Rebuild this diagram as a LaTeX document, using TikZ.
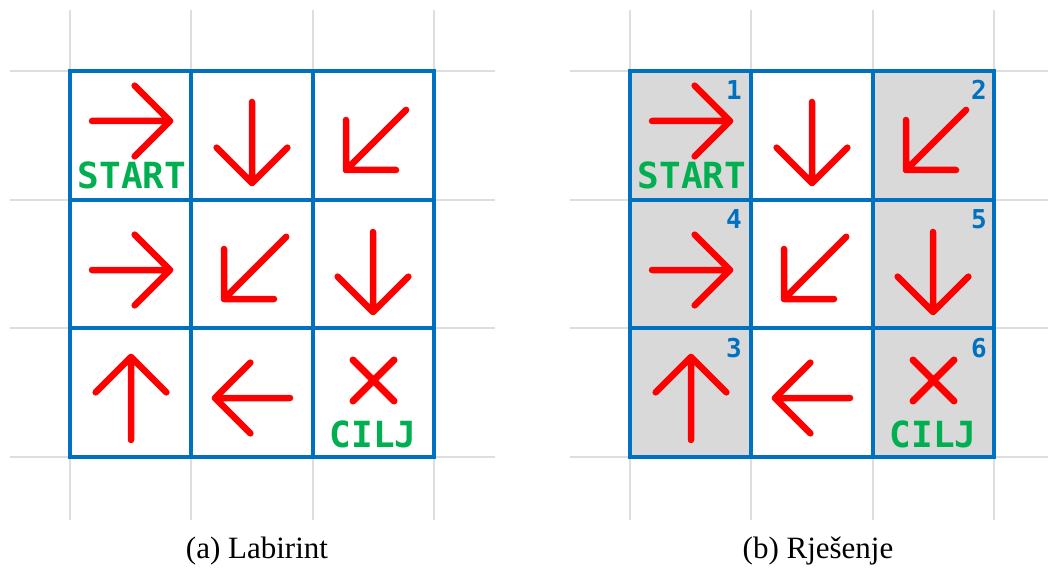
\documentclass[tikz,border=0pt]{standalone}
\usepackage{fontspec}
\setmainfont{Liberation Serif}
\newfontfamily\cellfont{DejaVu Sans Mono}
\definecolor{frameblue}{RGB}{0,112,192}
\definecolor{goalgreen}{RGB}{0,176,80}
\definecolor{faintgray}{RGB}{222,222,222}
\definecolor{cellgray}{RGB}{217,217,217}
\begin{document}
\begin{tikzpicture}[x=1pt, y=-1pt]
    \tikzset{faint/.style={draw=faintgray, line width=2pt},
             frame/.style={draw=frameblue, line width=4pt, line cap=rect},
             redarrow/.style={draw=red, line width=6.5pt, line cap=round, line join=round},
             redcross/.style={draw=red, line width=7pt, line cap=round},
             lbl/.style={font=\cellfont\bfseries\fontsize{36}{40}\selectfont,
                         text=goalgreen, inner sep=0pt, anchor=base},
             num/.style={font=\cellfont\bfseries\fontsize{26}{30}\selectfont,
                         text=frameblue, inner sep=0pt, anchor=base east},
             capt/.style={font=\fontsize{31}{36}\selectfont, inner sep=0pt, anchor=base}}
    \useasboundingbox (0,0) rectangle (1048,569);
    % background grid lines
    \foreach \dx in {0,560} {
      \foreach \x in {70,191,313,434}
        \draw[faint] (\x+\dx,10) -- (\x+\dx,520);
      \foreach \y in {71,200,328,457}
        \draw[faint] (10+\dx,\y) -- (495+\dx,\y);
    }
    % shaded cells of the solution
    \foreach \x in {630,873}
      \fill[cellgray] (\x,71) rectangle ++(121,386);
    % frames, arrows and labels
    \foreach \dx/\txt/\cx in {0/{(a) Labirint}/257, 560/{(b) Rje\v{s}enje}/258} {
      \foreach \x in {70,191,313,434}
        \draw[frame] (\x+\dx,71) -- (\x+\dx,457);
      \foreach \y in {71,200,328,457}
        \draw[frame] (70+\dx,\y) -- (434+\dx,\y);
      % tip x / tip y / direction / shaft length
      \foreach \xt/\yt/\ang/\len in {170/121/0/78, 252/183/90/81, 346/170/135/85,
                                     170/270/0/78, 224/299/135/88, 373/312/90/80,
                                     131/357/270/83, 215/398/180/75}
        \draw[redarrow] (\xt+\dx,\yt) ++(\ang+180:\len) -- (\xt+\dx,\yt)
                        -- ++(\ang+135:50) (\xt+\dx,\yt) -- ++(\ang-135:50);
      \draw[redcross] (353+\dx,360) -- (394+\dx,401) (353+\dx,401) -- (394+\dx,360);
      \node[lbl] (start\dx) at (132+\dx,189) {START};
      \node[lbl] (goal\dx) at (373+\dx,447) {CILJ};
      \node[capt] (caption\dx) at (\cx+\dx,558) {\txt};
    }
    % step numbers of the solution
    \foreach \x/\y/\n in {742/100/1, 987/100/2, 742/357/3, 742/229/4, 987/229/5, 987/357/6}
      \node[num] (step\n) at (\x,\y) {\n};
\end{tikzpicture}
\end{document}
